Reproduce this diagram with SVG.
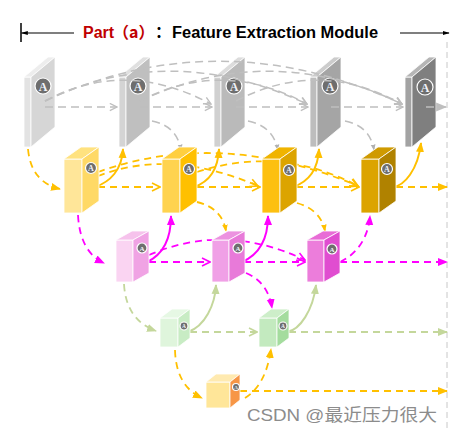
<svg xmlns="http://www.w3.org/2000/svg" width="452" height="433" viewBox="0 0 452 433">
<style>
.gd{stroke:#bfbfbf;stroke-width:1.5;fill:none;stroke-dasharray:8 5}
.od{stroke:#ffc000;stroke-width:1.8;fill:none;stroke-dasharray:7 5}
.os{stroke:#ffc000;stroke-width:2;fill:none}
.md{stroke:#ff00ff;stroke-width:1.8;fill:none;stroke-dasharray:7 5}
.ms{stroke:#ff00ff;stroke-width:2;fill:none}
.nd{stroke:#c4d79b;stroke-width:1.8;fill:none;stroke-dasharray:7 5}
.ns{stroke:#c4d79b;stroke-width:2;fill:none}
.bx{stroke:#ffffff;stroke-width:0.8}
.ic{fill:#6e6e6e;stroke:#ffffff;stroke-width:1.2}
.it{font-family:"Liberation Serif",serif;font-weight:bold;fill:#eef3fb;text-anchor:middle}
.tt{font-family:"Liberation Sans","Noto Sans CJK SC",sans-serif;font-weight:bold;font-size:16px}
</style>
<defs>
<marker id="gO" viewBox="0 0 10 10" refX="9" refY="5" markerWidth="9" markerHeight="9" markerUnits="userSpaceOnUse" orient="auto"><path d="M1,1 L9,5 L1,9" fill="none" stroke="#bfbfbf" stroke-width="1.5"/></marker>
<marker id="gF" viewBox="0 0 10 10" refX="9" refY="5" markerWidth="11" markerHeight="11" markerUnits="userSpaceOnUse" orient="auto"><path d="M0,1 L10,5 L0,9 z" fill="#bfbfbf"/></marker>
<marker id="gS" viewBox="0 0 10 10" refX="9" refY="5" markerWidth="6" markerHeight="6" markerUnits="userSpaceOnUse" orient="auto"><path d="M0,1 L10,5 L0,9 z" fill="#b0b0b0"/></marker>
<marker id="oO" viewBox="0 0 10 10" refX="9" refY="5" markerWidth="10" markerHeight="10" markerUnits="userSpaceOnUse" orient="auto"><path d="M1,1 L9,5 L1,9" fill="none" stroke="#ffc000" stroke-width="1.6"/></marker>
<marker id="oF" viewBox="0 0 10 10" refX="9" refY="5" markerWidth="10" markerHeight="10" markerUnits="userSpaceOnUse" orient="auto"><path d="M0,1 L10,5 L0,9 z" fill="#ffc000"/></marker>
<marker id="oS" viewBox="0 0 10 10" refX="9" refY="5" markerWidth="7" markerHeight="7" markerUnits="userSpaceOnUse" orient="auto"><path d="M0,1 L10,5 L0,9 z" fill="#ffc000"/></marker>
<marker id="mO" viewBox="0 0 10 10" refX="9" refY="5" markerWidth="10" markerHeight="10" markerUnits="userSpaceOnUse" orient="auto"><path d="M1,1 L9,5 L1,9" fill="none" stroke="#ff00ff" stroke-width="1.6"/></marker>
<marker id="mF" viewBox="0 0 10 10" refX="9" refY="5" markerWidth="10" markerHeight="10" markerUnits="userSpaceOnUse" orient="auto"><path d="M0,1 L10,5 L0,9 z" fill="#ff00ff"/></marker>
<marker id="nO" viewBox="0 0 10 10" refX="9" refY="5" markerWidth="10" markerHeight="10" markerUnits="userSpaceOnUse" orient="auto"><path d="M1,1 L9,5 L1,9" fill="none" stroke="#c4d79b" stroke-width="1.6"/></marker>
<marker id="nF" viewBox="0 0 10 10" refX="9" refY="5" markerWidth="10" markerHeight="10" markerUnits="userSpaceOnUse" orient="auto"><path d="M0,1 L10,5 L0,9 z" fill="#c4d79b"/></marker>
<marker id="kF" viewBox="0 0 10 10" refX="9" refY="5" markerWidth="7" markerHeight="7" markerUnits="userSpaceOnUse" orient="auto"><path d="M0,2 L10,5 L0,8 z" fill="#000"/></marker>
</defs>
<rect width="452" height="433" fill="#ffffff"/>

<g id="title">
<path d="M21,23 V42" stroke="#000" stroke-width="1.5"/>
<path d="M74,33 H21.5" stroke="#000" stroke-width="1.2" marker-end="url(#kF)"/>
<path d="M400,33 H449" stroke="#000" stroke-width="1.2" marker-end="url(#kF)"/>
<text class="tt" x="83" y="38" fill="#c00000">Part</text>
<text class="tt" x="113" y="38" fill="#c00000" style="font-family:'Noto Sans CJK SC',sans-serif">（a）</text>
<text class="tt" x="155" y="38" fill="#000" style="font-family:'Noto Sans CJK SC',sans-serif">：</text>
<text class="tt" x="172" y="38" fill="#000" textLength="206" lengthAdjust="spacingAndGlyphs">Feature Extraction Module</text>
</g>

<path id="boundary" d="M447,42 V428" stroke="#c8c8c8" stroke-width="1" stroke-dasharray="6 4" fill="none"/>

<g id="slab1">
<rect class="bx" x="24" y="77" width="7" height="70" fill="#e3e3e3"/>
<polygon class="bx" points="24,77 48,57 55,57 31,77" fill="#ededed"/>
<polygon class="bx" points="31,77 55,57 55,127 31,147" fill="#d6d6d6"/>
<circle class="ic" cx="43" cy="86" r="8"/><text class="it" x="43" y="90.5" font-size="12">A</text>
</g>
<g id="slab2">
<rect class="bx" x="119" y="77" width="7" height="70" fill="#d4d4d4"/>
<polygon class="bx" points="119,77 143,57 150,57 126,77" fill="#e0e0e0"/>
<polygon class="bx" points="126,77 150,57 150,127 126,147" fill="#bfbfbf"/>
<circle class="ic" cx="138" cy="86" r="8"/><text class="it" x="138" y="90.5" font-size="12">A</text>
</g>
<g id="slab3">
<rect class="bx" x="214" y="77" width="7" height="70" fill="#d0d0d0"/>
<polygon class="bx" points="214,77 238,57 245,57 221,77" fill="#dcdcdc"/>
<polygon class="bx" points="221,77 245,57 245,127 221,147" fill="#bababa"/>
<circle class="ic" cx="234" cy="86" r="8"/><text class="it" x="234" y="90.5" font-size="12">A</text>
</g>
<g id="slab4">
<rect class="bx" x="310" y="77" width="7" height="70" fill="#bdbdbd"/>
<polygon class="bx" points="310,77 334,57 341,57 317,77" fill="#cccccc"/>
<polygon class="bx" points="317,77 341,57 341,127 317,147" fill="#a5a5a5"/>
<circle class="ic" cx="330" cy="86" r="8"/><text class="it" x="330" y="90.5" font-size="12">A</text>
</g>
<g id="slab5">
<rect class="bx" x="405" y="77" width="7" height="70" fill="#a3a3a3"/>
<polygon class="bx" points="405,77 429,57 436,57 412,77" fill="#b5b5b5"/>
<polygon class="bx" points="412,77 436,57 436,127 412,147" fill="#7f7f7f"/>
<circle class="ic" cx="425" cy="87" r="8"/><text class="it" x="425" y="91.5" font-size="12">A</text>
</g>

<g id="connectors">
<!-- gray row -->
<path class="gd" d="M45,107 H117" marker-end="url(#gO)"/>
<path class="gd" d="M140,107 H212" marker-end="url(#gO)"/>
<path class="gd" d="M236,107 H308" marker-end="url(#gO)"/>
<path class="gd" d="M331,107 H403" marker-end="url(#gO)"/>
<path class="gd" d="M426,107 H446" marker-end="url(#gF)"/>
<path class="gd" d="M45,101 Q125,58 211,104" marker-end="url(#gO)"/>
<path class="gd" d="M45,101 Q170,40 307,104" marker-end="url(#gO)"/>
<path class="gd" d="M45,101 Q220,20 402,104" marker-end="url(#gO)"/>
<path class="gd" d="M140,101 Q222,58 307,104" marker-end="url(#gO)"/>
<path class="gd" d="M140,101 Q270,40 402,104" marker-end="url(#gO)"/>
<path class="gd" d="M236,101 Q318,58 402,104" marker-end="url(#gO)"/>
<path class="gd" d="M152,121 Q177,126 181,150" marker-end="url(#gS)"/>
<path class="gd" d="M248,121 Q273,126 278,150" marker-end="url(#gS)"/>
<path class="gd" d="M345,121 Q370,126 374,150" marker-end="url(#gS)"/>
<!-- orange row -->
<path class="od" d="M28,149 Q31,182 60,189" marker-end="url(#oF)"/>
<path class="os" d="M95,187 C110,182 122,170 123,149" marker-end="url(#oF)"/>
<path class="os" d="M194,187 C209,182 218,170 219,149" marker-end="url(#oF)"/>
<path class="os" d="M293,187 C308,182 318,170 319,149" marker-end="url(#oF)"/>
<path class="os" d="M393,187 C404,186 418,170 421,143" marker-end="url(#oF)"/>
<path class="od" d="M98,187 H160" marker-end="url(#oO)"/>
<path class="od" d="M197,187 H260" marker-end="url(#oO)"/>
<path class="od" d="M296,187 H359" marker-end="url(#oO)"/>
<path class="od" d="M396,187 H447" marker-end="url(#oF)"/>
<path class="od" d="M98,176 Q170,148 258,186" marker-end="url(#oO)"/>
<path class="od" d="M98,172 Q220,128 358,186" marker-end="url(#oO)"/>
<path class="od" d="M197,172 Q280,145 358,186" marker-end="url(#oO)"/>
<path class="od" d="M197,202 Q222,208 226,231" marker-end="url(#oS)"/>
<path class="od" d="M297,203 Q321,210 325,231" marker-end="url(#oS)"/>
<!-- magenta row -->
<path class="md" d="M78,215 Q80,252 104,263" marker-end="url(#mF)"/>
<path class="ms" d="M147,262 C162,255 171,240 171,216" marker-end="url(#mF)"/>
<path class="ms" d="M242,262 C258,255 268,240 268,216" marker-end="url(#mF)"/>
<path class="md" d="M340,262 C355,255 368,240 370,216" marker-end="url(#mF)"/>
<path class="md" d="M149,262 H210" marker-end="url(#mO)"/>
<path class="md" d="M244,262 H305" marker-end="url(#mO)"/>
<path class="md" d="M340,262 H447" marker-end="url(#mF)"/>
<path class="md" d="M149,255 Q225,222 305,260" marker-end="url(#mO)"/>
<path class="md" d="M246,273 Q268,282 272,308" marker-end="url(#mF)"/>
<!-- green row -->
<path class="nd" d="M124,284 Q126,320 156,331" marker-end="url(#nF)"/>
<path class="ns" d="M188,332 C205,326 215,305 216,285" marker-end="url(#nF)"/>
<path class="ns" d="M287,332 C300,330 313,310 316,285" marker-end="url(#nF)"/>
<path class="nd" d="M190,332 H257" marker-end="url(#nO)"/>
<path class="nd" d="M289,332 H447" marker-end="url(#nF)"/>
<!-- bottom -->
<path class="od" d="M175,350 Q176,386 202,398" marker-end="url(#oF)"/>
<path class="od" d="M245,398 Q266,385 271,349" marker-end="url(#oF)"/>
<path class="od" d="M240,391 H447" marker-end="url(#oF)"/>
</g>

<g id="box1">
<rect class="bx" x="64" y="159" width="18" height="54" fill="#ffe699"/>
<polygon class="bx" points="64,159 81,147 99,147 82,159" fill="#ffe27f"/>
<polygon class="bx" points="82,159 99,147 99,201 82,213" fill="#ffd966"/>
<circle class="ic" cx="91" cy="168" r="5.5"/><text class="it" x="91" y="171" font-size="8">A</text>
</g>
<g id="box2">
<rect class="bx" x="162" y="159" width="18" height="54" fill="#ffd34f"/>
<polygon class="bx" points="162,159 179,147 197,147 180,159" fill="#ffcf3f"/>
<polygon class="bx" points="180,159 197,147 197,201 180,213" fill="#ffc000"/>
<circle class="ic" cx="189" cy="169" r="5.5"/><text class="it" x="189" y="172" font-size="8">A</text>
</g>
<g id="box3">
<rect class="bx" x="262" y="159" width="18" height="54" fill="#fdc010"/>
<polygon class="bx" points="262,159 279,147 297,147 280,159" fill="#f0b400"/>
<polygon class="bx" points="280,159 297,147 297,201 280,213" fill="#dca400"/>
<circle class="ic" cx="289" cy="170" r="5.5"/><text class="it" x="289" y="173" font-size="8">A</text>
</g>
<g id="box4">
<rect class="bx" x="361" y="159" width="18" height="54" fill="#dca400"/>
<polygon class="bx" points="361,159 378,147 396,147 379,159" fill="#cf9a00"/>
<polygon class="bx" points="379,159 396,147 396,201 379,213" fill="#b08200"/>
<circle class="ic" cx="387" cy="169" r="5.5"/><text class="it" x="387" y="172" font-size="8">A</text>
</g>

<g id="pink1">
<rect class="bx" x="116" y="240" width="17" height="42" fill="#fad4f2"/>
<polygon class="bx" points="116,240 132,231 149,231 133,240" fill="#f6c2ec"/>
<polygon class="bx" points="133,240 149,231 149,273 133,282" fill="#f0a3e4"/>
<circle class="ic" cx="142" cy="248" r="5"/><text class="it" x="142" y="250.7" font-size="7">A</text>
</g>
<g id="pink2">
<rect class="bx" x="212" y="240" width="17" height="42" fill="#f0a0e6"/>
<polygon class="bx" points="212,240 228,231 245,231 229,240" fill="#ec92e0"/>
<polygon class="bx" points="229,240 245,231 245,273 229,282" fill="#e87ad9"/>
<circle class="ic" cx="238" cy="248" r="5"/><text class="it" x="238" y="250.7" font-size="7">A</text>
</g>
<g id="pink3">
<rect class="bx" x="307" y="240" width="17" height="42" fill="#ec7ddb"/>
<polygon class="bx" points="307,240 323,231 340,231 324,240" fill="#e86cd6"/>
<polygon class="bx" points="324,240 340,231 340,273 324,282" fill="#e04dd0"/>
<circle class="ic" cx="332" cy="249" r="5"/><text class="it" x="332" y="251.7" font-size="7">A</text>
</g>

<g id="green1">
<rect class="bx" x="160" y="318" width="18" height="29" fill="#dff5dc"/>
<polygon class="bx" points="160,318 172,309 190,309 178,318" fill="#e6f8e4"/>
<polygon class="bx" points="178,318 190,309 190,338 178,347" fill="#c8ecc4"/>
<circle class="ic" cx="184" cy="326" r="4"/><text class="it" x="184" y="328" font-size="5.5">A</text>
</g>
<g id="green2">
<rect class="bx" x="259" y="318" width="18" height="29" fill="#c3eabf"/>
<polygon class="bx" points="259,318 271,309 289,309 277,318" fill="#cdeec9"/>
<polygon class="bx" points="277,318 289,309 289,338 277,347" fill="#a4dc9e"/>
<circle class="ic" cx="283" cy="326" r="4"/><text class="it" x="283" y="328" font-size="5.5">A</text>
</g>

<g id="box5">
<rect class="bx" x="206" y="382" width="24" height="26" fill="#ffe699"/>
<polygon class="bx" points="206,382 216,374 240,374 230,382" fill="#ffeab0"/>
<polygon class="bx" points="230,382 240,374 240,400 230,408" fill="#f79646"/>
<circle class="ic" cx="236" cy="387" r="3.5"/><text class="it" x="236" y="389" font-size="5">A</text>
</g>

<text x="247" y="421" font-family="'Liberation Sans','Noto Sans CJK SC',sans-serif" font-size="17" fill="#8c8c8c" stroke="#ffffff" stroke-width="0.6" paint-order="stroke" textLength="190" lengthAdjust="spacingAndGlyphs">CSDN @最近压力很大</text>
</svg>
